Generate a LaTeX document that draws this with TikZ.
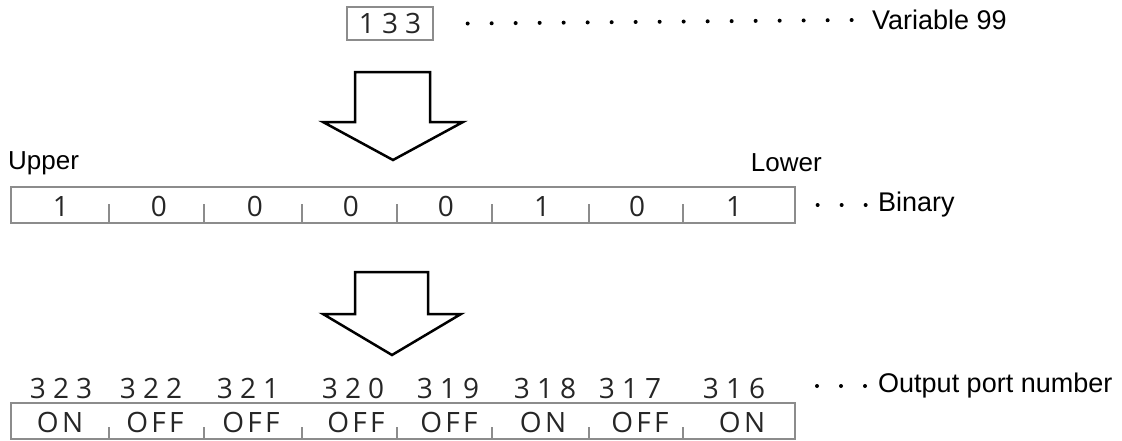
\documentclass[tikz,border=0pt]{standalone}
\usepackage{fontspec}
\setmainfont{Liberation Sans}
\newfontfamily\numfont[LetterSpace=25]{Open Sans}
\newfontfamily\statefont[LetterSpace=12]{Open Sans}
\definecolor{framegray}{gray}{0.55}
\definecolor{textgray}{gray}{0.15}
\tikzset{
  rowbox/.style={draw=framegray,line width=1.3pt,minimum width=784pt,minimum height=36pt,inner sep=0pt},
  digit/.style={font=\numfont\fontsize{28}{28}\selectfont,text=textgray,inner sep=0pt},
  state/.style={font=\statefont\fontsize{28}{28}\selectfont,text=textgray,inner sep=0pt},
  sidetext/.style={font=\fontsize{27}{27}\selectfont,inner sep=0pt},
  leader/.style={line width=4pt,line cap=round,dash pattern=on 0pt off 24pt},
  bigarrow/.style={draw,line width=2.5pt,fill=white,line join=miter},
  divider/.style={framegray,line width=1.3pt}
}
\begin{document}
\begin{tikzpicture}[x=1pt,y=-1pt]
  \useasboundingbox (0,0) rectangle (1122,440);
  % variable
  \node[rowbox,minimum width=86pt,minimum height=33pt,digit] (var) at (390,23.5) {133};
  \node[sidetext,anchor=west] (varname) at (872,20) {Variable 99};
  \draw[leader] ([xshift=34pt]var.east) -- ([xshift=-18pt]varname.west);
  % first arrow
  \draw[bigarrow] (355,72)--(430,72)--(430,122)--(463,122)--(393,160)--(323,122)--(355,122)--cycle;
  % binary
  \node[sidetext,font=\fontsize{26}{26}\selectfont,anchor=west] (upper) at (8,163) {Upper};
  \node[sidetext,font=\fontsize{26}{26}\selectfont,anchor=east] (lower) at (822,163) {Lower};
  \node[rowbox] (bin) at (403,205) {};
  \foreach \x/\v [count=\i] in {61/1,159/0,255/0,351/0,446/0,542/1,637/0,734/1}
    \node[digit] (bit\i) at (\x,206) {\v};
  \foreach \x in {109,204,302,397,492,589,683}
    \draw[divider] (\x,204) -- (\x,223);
  \node[sidetext,anchor=west] (binname) at (878,205) {Binary};
  \draw[leader] ([xshift=22pt]bin.east) -- ([xshift=-10pt]binname.west);
  % second arrow
  \draw[bigarrow] (355,272)--(428,272)--(428,314)--(461,314)--(392,355)--(323,314)--(355,314)--cycle;
  % output ports
  \foreach \x/\n [count=\i] in {61/323,151/322,248/321,353/320,448/319,545/318,630/317,734/316}
    \node[digit] (port\i) at (\x,388) {\n};
  \node[sidetext,anchor=west] (portname) at (878,386) {Output port number};
  \coordinate (portdots) at (817,386);
  \draw[leader] (portdots) -- ([xshift=-10pt]portname.west);
  \node[rowbox] (states) at (403,421) {};
  \foreach \x/\s [count=\i] in {60/ON,155/OFF,251/OFF,356/OFF,449/OFF,543/ON,640/OFF,742/ON}
    \node[state] (sw\i) at (\x,422) {\s};
  \foreach \x in {109,204,302,397,492,589,683}
    \draw[divider] (\x,427) -- (\x,439);
\end{tikzpicture}
\end{document}
